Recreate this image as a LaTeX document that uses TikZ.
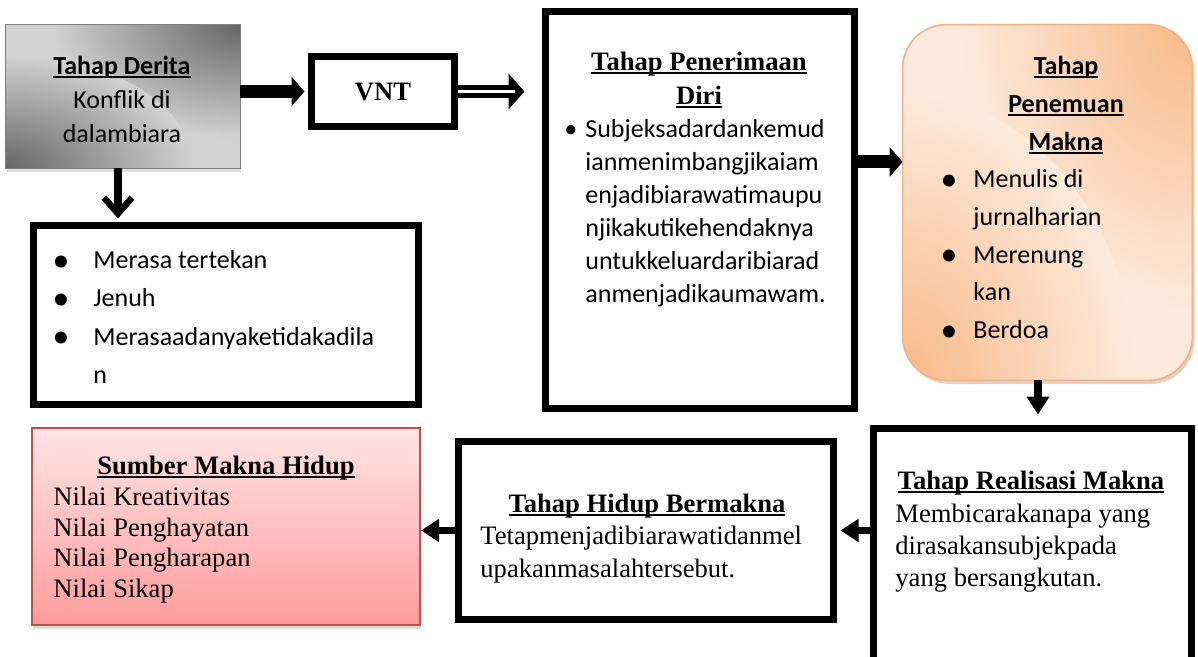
\documentclass[tikz,border=0pt]{standalone}
\usepackage{fontspec}
\setmainfont{Liberation Serif}
\newfontfamily\calibri{Carlito}
\usepackage{tikz}
\usetikzlibrary{arrows.meta,fit,shadows}

\definecolor{deritadark}{HTML}{666666}
\definecolor{deritalight}{HTML}{D2D2D2}
\definecolor{temudark}{HTML}{F8B987}
\definecolor{temulight}{HTML}{FDEADB}
\definecolor{temuline}{HTML}{F4B183}
\definecolor{sumbertop}{HTML}{FFE4E4}
\definecolor{sumberbot}{HTML}{FF9C9C}
\definecolor{sumberline}{HTML}{C0504D}

% garis bawah rapat seperti di Word
\newcommand{\garis}[1]{\setbox0\hbox{#1}\rlap{\rule[-1.7pt]{\wd0}{0.9pt}}\box0}
\newcommand{\titik}{\raisebox{-1.3pt}{\scalebox{1.3}{\textbullet}}}

\tikzset{
  thickbox/.style={draw, line width=3.5pt, fill=white, inner sep=0pt},
  sanstxt/.style={inner sep=0pt, font=\calibri\fontsize{13}{#1}\selectfont},
  seriftxt/.style={inner sep=0pt, font=\fontsize{13.3}{#1}\selectfont},
  fatarrow/.style={line width=6.5pt, -{Triangle[length=6.5pt,width=14.5pt]}},
  medarrow/.style={line width=3.75pt, -{Triangle[length=9pt,width=11pt]}},
  dblarrow/.style={line width=6.5pt, -{Triangle[length=8pt,width=17.5pt]}},
  barbarrow/.style={line width=4pt, -{Straight Barb[length=8pt,width=14pt,line width=3.2pt]}}
}

\begin{document}
\begin{tikzpicture}[x=0.5pt,y=-0.5pt]
  \useasboundingbox (0,0) rectangle (1198,657);

  % kotak-kotak
  \node[fit={(6,25) (240,168)}, inner sep=0pt, fill=deritalight,
        drop shadow={shadow xshift=0.6pt, shadow yshift=-2pt, fill=gray!55}] (derita) {};
  \begin{scope}
    \clip (derita.north west) rectangle (derita.south east);
    \shade[inner color=deritadark, outer color=deritalight]
      (derita.north east) ellipse [x radius=94pt, y radius=57pt];
    \shade[inner color=deritadark, outer color=deritalight]
      (derita.south west) ellipse [x radius=94pt, y radius=57pt];
  \end{scope}
  \draw[gray, line width=0.6pt] (derita.north west) rectangle (derita.south east);

  \node[fit={(903,25) (1192,380)}, inner sep=0pt, rounded corners=22pt, fill=temulight,
        drop shadow={shadow xshift=1.2pt, shadow yshift=-2pt, fill=temuline!70!gray}] (temu) {};
  \begin{scope}
    \clip[rounded corners=22pt] (temu.north west) rectangle (temu.south east);
    \shade[inner color=temudark, outer color=temulight]
      (temu.north east) ellipse [x radius=116pt, y radius=143pt];
    \shade[inner color=temudark, outer color=temulight]
      (temu.south west) ellipse [x radius=116pt, y radius=143pt];
  \end{scope}
  \draw[temuline, line width=0.8pt, rounded corners=22pt]
    (temu.north west) rectangle (temu.south east);

  \node[thickbox, fit={(311.5,56.5) (454.5,126.5)}] (vnt) {};
  \node[thickbox, fit={(545.5,11.5) (854.5,408.5)}] (terima) {};
  \node[thickbox, fit={(33.5,225.5) (418.5,404.5)}] (tekan) {};
  \node[thickbox, fit={(873.5,428.5) (1191.5,662)}] (realisasi) {};
  \node[thickbox, fit={(458.5,441.5) (833.5,619.5)}] (hidup) {};
  \node[fit={(32,428) (420,625)}, inner sep=0pt, draw=sumberline, line width=1pt,
        drop shadow={shadow xshift=0.5pt, shadow yshift=-2pt, fill=gray!50},
        top color=sumbertop, bottom color=sumberbot] (sumber) {};

  % isi teks
  \node[sanstxt=17, anchor=north, align=center] (deritatxt) at (122,56)
    {\garis{\textbf{Tahap Derita}}\\Konflik di\\dalambiara};
  \node[inner sep=0pt, font=\bfseries\fontsize{13.3}{16}\selectfont] (vnttxt)
    at (vnt.center) {VNT};
  \node[sanstxt=19.2, anchor=north west, align=left] (tekantxt) at (93,250)
    {\llap{\titik\hspace{12pt}}Merasa tertekan\\
     \llap{\titik\hspace{12pt}}Jenuh\\
     \llap{\titik\hspace{12pt}}Merasaadanyaketidakadila\\n};
  \node[seriftxt=17, anchor=north, align=center] (terimajudul) at (699,52)
    {\garis{\textbf{Tahap Penerimaan}}\\\garis{\textbf{Diri}}};
  \node[sanstxt=16.5, anchor=north west, align=left] (terimatxt) at (585,119)
    {\llap{\textbullet\hspace{4pt}}Subjeksadardankemud\\ianmenimbangjikaiam\\
     enjadibiarawatimaupu\\njikakutikehendaknya\\untukkeluardaribiarad\\
     anmenjadikaumawam.};
  \node[sanstxt=18.9, anchor=north, align=center] (temujudul) at (1066,56)
    {\garis{\textbf{Tahap}}\\\garis{\textbf{Penemuan}}\\\garis{\textbf{Makna}}};
  \node[sanstxt=18.9, anchor=north west, align=left] (temutxt) at (973,169)
    {\llap{\titik\hspace{8pt}}Menulis di\\jurnalharian\\
     \llap{\titik\hspace{8pt}}Merenung\\kan\\
     \llap{\titik\hspace{8pt}}Berdoa};
  \node[seriftxt=16, anchor=north, align=center] (realjudul) at (1031,471)
    {\garis{\textbf{Tahap Realisasi Makna}}};
  \node[seriftxt=15.8, anchor=north west, align=left] (realtxt) at (895,504)
    {Membicarakanapa yang\\dirasakansubjekpada\\yang bersangkutan.};
  \node[seriftxt=16, anchor=north, align=center] (hidupjudul) at (647,494)
    {\garis{\textbf{Tahap Hidup Bermakna}}};
  \node[seriftxt=16.5, anchor=north west, align=left] (hiduptxt) at (480,526)
    {Tetapmenjadibiarawatidanmel\\upakanmasalahtersebut.};
  \node[seriftxt=15.2, anchor=north, align=center] (sumberjudul) at (226,456)
    {\garis{\textbf{Sumber Makna Hidup}}};
  \node[seriftxt=15.2, anchor=north west, align=left] (sumbertxt) at (53,487)
    {Nilai Kreativitas\\Nilai Penghayatan\\Nilai Pengharapan\\Nilai Sikap};

  % panah
  \draw[fatarrow, shorten >=1.75pt] (derita.east |- vnt.west) -- (vnt.west);
  \draw[dblarrow, shorten >=8.75pt] (vnt.east) -- (vnt.east -| terima.west);
  \draw[white, line width=1.25pt] (vnt.east) -- ++(57,0);
  \path ([yshift=24pt]terima.east) coordinate (a3);
  \draw[fatarrow] (a3) -- (a3 -| temu.west);
  \path ([xshift=-4.75pt]temu.south) coordinate (a4);
  \draw[medarrow, shorten >=5.25pt] (a4) -- (a4 |- realisasi.north);
  \draw[medarrow, shorten >=1.75pt] (realisasi.west |- hidup.east) -- (hidup.east);
  \draw[medarrow] (hidup.west) -- (hidup.west -| sumber.east);
  \path ([xshift=-2.5pt]derita.south) coordinate (a6);
  \draw[barbarrow, shorten >=1.75pt] (a6) -- (a6 |- tekan.north);
\end{tikzpicture}
\end{document}
